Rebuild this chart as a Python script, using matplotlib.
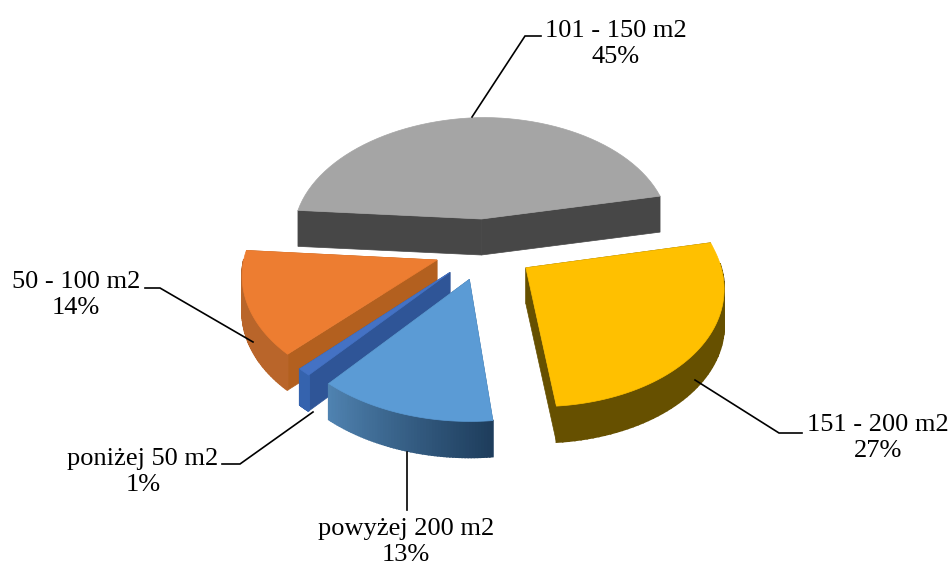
import numpy as np
import matplotlib
matplotlib.use("Agg")
import matplotlib.pyplot as plt
from matplotlib.colors import LinearSegmentedColormap
from matplotlib.patches import Polygon

# Data, clockwise from the left edge of the biggest slice
categories = ["101 - 150 m2", "151 - 200 m2", "powyżej 200 m2", "poniżej 50 m2", "50 - 100 m2"]
shares = [45, 27, 13, 1, 14]
top_colors = ["#A5A5A5", "#FFC000", "#5B9BD5", "#4472C4", "#ED7D31"]
radial_colors = ["#474747", "#665000", "#37618A", "#2F5597", "#B3601F"]
outer_left = ["#474747", "#665000", "#4F82B0", "#3563AE", "#B9652A"]
outer_right = ["#474747", "#665000", "#1E3D5C", "#3563AE", "#B9652A"]

# Scene settings
START = 174
CX, CY = 484, 249
RX, RY = 192, 119
K = 0.111
EXPLODE = 0.26
HEIGHT = 36
SHEAR = 7
ROLL = 3


def project(px, py, down=0.0):
    s = 1 / (1 + K * py)
    x = CX + RX * px * s + SHEAR * max(-py, 0)
    y = CY - RY * py * s + down - ROLL * min(px, 0)
    return x, y


fig = plt.figure(figsize=(9.52, 5.67), dpi=100)
ax = fig.add_axes([0, 0, 1, 1])
ax.set_xlim(0, 952)
ax.set_ylim(567, 0)
ax.axis("off")

# -----------------------------------
# SLICES
# -----------------------------------
ends = START - np.cumsum(shares) * 3.6
starts = np.r_[START, ends[:-1]]
slices = []
for i in range(len(shares)):
    mid = np.radians((starts[i] + ends[i]) / 2)
    ox, oy = EXPLODE * np.cos(mid), EXPLODE * np.sin(mid)
    t = np.radians(np.linspace(starts[i], ends[i], 60))
    slices.append((i, ox, oy, t))

# gray first, then the rest back to front
for i, ox, oy, t in [slices[k] for k in (0, 4, 3, 1, 2)]:
    arc_x, arc_y = ox + np.cos(t), oy + np.sin(t)

    # flat side walls
    for ex, ey in [(arc_x[0], arc_y[0]), (arc_x[-1], arc_y[-1])]:
        wall = [project(ox, oy), project(ex, ey), project(ex, ey, HEIGHT), project(ox, oy, HEIGHT)]
        ax.add_patch(Polygon(wall, closed=True, fc=radial_colors[i], ec=radial_colors[i], lw=0.5))

    # curved wall, shaded from one end to the other (back part stays hidden)
    cmap = LinearSegmentedColormap.from_list("wall", [outer_right[i], outer_left[i]])
    for j in range(len(t) - 1):
        if np.sin(t[j]) > 0.02 and np.sin(t[j + 1]) > 0.02:
            continue
        quad = [
            project(arc_x[j], arc_y[j]),
            project(arc_x[j + 1], arc_y[j + 1]),
            project(arc_x[j + 1], arc_y[j + 1], HEIGHT),
            project(arc_x[j], arc_y[j], HEIGHT),
        ]
        c = cmap(j / (len(t) - 2))
        ax.add_patch(Polygon(quad, closed=True, fc=c, ec=c, lw=1.2))

    # top face
    top = [project(ox, oy)] + [project(a, b) for a, b in zip(arc_x, arc_y)]
    ax.add_patch(Polygon(top, closed=True, fc=top_colors[i], ec=top_colors[i], lw=0.5))

# -----------------------------------
# LABELS AND LEADER LINES
# -----------------------------------
label_pos = [(616, 44), (878, 438), (406, 542), (143, 472), (76, 295)]
leaders = [
    [(472, 117), (525, 36), (541, 36)],
    [(695, 380), (779, 433), (802, 433)],
    [(407, 452), (407, 510)],
    [(313, 412), (240, 464), (222, 464)],
    [(253, 342), (160, 288), (145, 288)],
]

for name, share, pos, line in zip(categories, shares, label_pos, leaders):
    xs, ys = zip(*line)
    ax.plot(xs, ys, color="black", lw=1.2, solid_joinstyle="miter")
    ax.text(pos[0], pos[1], f"{name}\n{share}%", ha="center", va="center",
            fontsize=19, family="Liberation Serif", color="black", linespacing=1.28)

fig.savefig("out.png", dpi=100)
